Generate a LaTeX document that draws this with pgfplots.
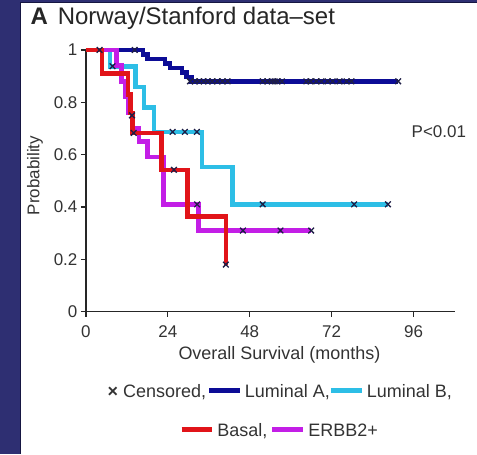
\documentclass[border=0pt]{standalone}
\usepackage{fontspec}
\setmainfont{Liberation Sans}
\usepackage{pgfplots}
\pgfplotsset{compat=1.18}

\definecolor{frame}{RGB}{46,47,114}
\definecolor{frameedge}{RGB}{22,22,66}
\definecolor{lumA}{RGB}{12,12,150}
\definecolor{lumB}{RGB}{45,190,230}
\definecolor{basal}{RGB}{225,20,25}
\definecolor{erbb}{RGB}{195,30,230}
\definecolor{cens}{RGB}{30,30,70}

\begin{document}
\begin{tikzpicture}
% navy frame and white panel
\fill[frame] (0pt,0pt) rectangle (477pt,454pt);
\fill[white] (21pt,0pt) rectangle (477pt,451pt);
\draw[frameedge, line width=1pt] (21pt,0pt) -- (21pt,451pt) -- (477pt,451pt);
\useasboundingbox (0pt,0pt) rectangle (477pt,454pt);

\node[anchor=base west, font=\fontsize{24}{28}\selectfont, text=black!85] at (27pt,429pt)
  {\textbf{A}\hspace{10pt}Norway/Stanford data–set};

\begin{axis}[
    scale only axis,
    width=369pt, height=262pt,
    at={(86pt,142pt)}, anchor=south west,
    xmin=0, xmax=108, ymin=0, ymax=1,
    axis lines=left,
    axis line style={-, line width=1.2pt, black!85},
    tick align=outside,
    major tick length=5pt,
    tick style={line width=1.2pt, black!85},
    xtick={0,24,48,72,96},
    ytick={0,0.2,0.4,0.6,0.8,1},
    /pgf/number format/assume math mode=true,
    tick label style={font=\fontsize{17}{20}\selectfont, text=black!80},
    xticklabel style={yshift=-5pt},
    xlabel={Overall Survival (months)},
    xlabel style={at={(axis description cs:0.525,0)}, anchor=center, yshift=-43pt,
                  font=\fontsize{18}{22}\selectfont, text=black!80},
    ylabel={Probability},
    ylabel style={at={(axis description cs:-0.138,0.52)}, anchor=center,
                  font=\fontsize{17}{20}\selectfont, text=black!80},
    clip=false,
]

% Luminal A
\addplot[const plot, lumA, line width=4.5pt] coordinates {
    (0,1) (16.7,0.983) (18.1,0.966) (23.1,0.949) (24.6,0.931)
    (28.1,0.914) (29.5,0.897) (31,0.88) (91.5,0.88)
};
% Luminal B
\addplot[const plot, lumB, line width=4.5pt] coordinates {
    (0,1) (7,0.9375) (14.5,0.859) (17,0.781) (20,0.687)
    (34,0.553) (43,0.41) (88.5,0.41)
};
% ERBB2+
\addplot[const plot, erbb, line width=4.5pt] coordinates {
    (0,1) (9,0.94) (10.5,0.88) (11.5,0.82) (12.5,0.76) (13.5,0.70)
    (15.5,0.65) (18,0.59) (22.8,0.41) (33,0.31) (66,0.31)
};
% Basal
\addplot[const plot, basal, line width=4.5pt] coordinates {
    (0,1) (4.7,0.91) (12.3,0.83) (13,0.76) (13.7,0.683)
    (22.2,0.542) (29.8,0.363) (41,0.18)
};

% censored observations
\addplot[only marks, mark=x, mark size=4pt, cens, mark options={line width=1.3pt}] coordinates {
    (4,1) (14.3,1)
    (30.5,0.88) (32,0.88) (33.2,0.88) (34.5,0.88) (35.7,0.88) (37,0.88)
    (38.5,0.88) (40,0.88) (41.5,0.88)
    (51.8,0.88) (53.2,0.88) (54.4,0.88) (55.3,0.88) (56.2,0.88) (57.4,0.88)
    (64.6,0.88) (65.8,0.88) (67.5,0.88) (69,0.88) (70.8,0.88) (72.3,0.88)
    (74.3,0.88) (76.4,0.88) (77.8,0.88) (91.5,0.88)
    (7.8,0.9375) (25.4,0.687) (29,0.687) (32.5,0.687)
    (51.8,0.41) (78.6,0.41) (88.5,0.41)
    (13.5,0.75) (14,0.683) (25.8,0.542) (41,0.18)
    (32.6,0.41) (46,0.31) (57,0.31) (66,0.31)
};

\node[anchor=east, font=\fontsize{17}{20}\selectfont, text=black!80] at (axis cs:112.4,0.687) {P<0.01};
\end{axis}

% legend
\node[align=center, font=\fontsize{18}{39}\selectfont, text=black!80] at (280pt,42pt) {%
  \textbf{×} Censored,\hspace{3pt}\textcolor{lumA}{\rule[0.22em]{31pt}{5pt}} Luminal A,\hspace{1pt}\textcolor{lumB}{\rule[0.22em]{31pt}{5pt}} Luminal B,\\
  \textcolor{basal}{\rule[0.22em]{31pt}{5pt}} Basal, \textcolor{erbb}{\rule[0.22em]{31pt}{5pt}} ERBB2+};
\end{tikzpicture}
\end{document}
